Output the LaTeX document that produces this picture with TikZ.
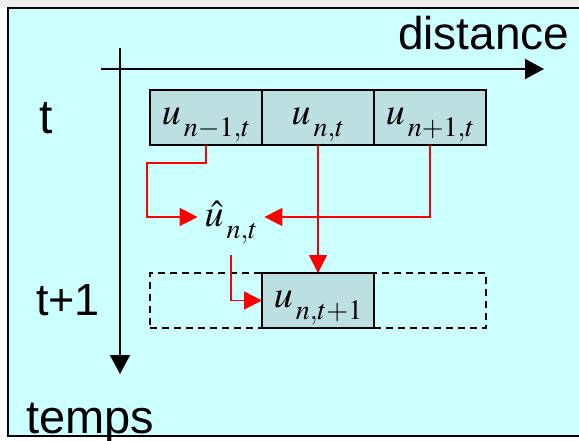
\documentclass[tikz,border=0pt]{standalone}
\usepackage{mathptmx}
\usepackage[no-math]{fontspec}
\setmainfont{Liberation Sans}
\usepackage{tikz}
\usetikzlibrary{arrows.meta, positioning}
\DeclareMathSizes{38}{38}{28}{20}
\newcommand{\usub}[2]{#1\kern3pt\lower12pt\hbox{$\scriptstyle #2$}}
\definecolor{bgcyan}{RGB}{204,255,255}
\definecolor{cellfill}{RGB}{188,224,226}
\definecolor{topgray}{RGB}{238,238,238}
\tikzset{
  cell/.style={rectangle, draw=black, fill=cellfill, line width=1.5pt,
    minimum width=112pt, minimum height=55pt, inner sep=0pt, outer sep=0pt,
    text height=30pt, text depth=16pt, font=\fontsize{38}{40}\selectfont},
  ghost/.style={rectangle, draw=black, dashed, dash pattern=on 7pt off 5pt,
    line width=1.2pt, minimum width=112pt, minimum height=55pt,
    inner sep=0pt, outer sep=0pt},
  hatlbl/.style={inner xsep=7pt, inner ysep=12pt, outer sep=0pt,
    font=\fontsize{38}{40}\selectfont},
  biglbl/.style={inner sep=0pt, anchor=base west},
  axis/.style={-{Triangle[length=19pt,width=20pt]}, line width=1.5pt, color=black},
  redarrow/.style={-{Triangle[length=18pt,width=18pt]}, line width=1.5pt, color=red}
}
\begin{document}
\begin{tikzpicture}[x=1pt, y=-1pt]
  \useasboundingbox (0,0) rectangle (579,440);
  % background and frame
  \fill[topgray] (0,0) rectangle (579,7);
  \draw[line width=2pt, fill=bgcyan] (8,8) rectangle (600,436);
  % axes
  \coordinate (xstart) at (101,69);
  \coordinate (xend) at (544,69);
  \coordinate (ystart) at (120,48);
  \coordinate (yend) at (120,374);
  \draw[axis] (xstart) -- (xend);
  \draw[axis] (ystart) -- (yend);
  \node[biglbl, font=\fontsize{46}{46}\selectfont] (dist) at (398,49) {distance};
  \node[biglbl, font=\fontsize{48}{48}\selectfont] (tlab) at (39,133) {t};
  \node[biglbl, font=\fontsize{45}{45}\selectfont] (t1lab) at (36,315) {t+1};
  \node[biglbl, font=\fontsize{47}{47}\selectfont] (temps) at (26,433) {temps};
  % row t
  \node[cell] (um) at (206,117.5) {$\usub{u}{n-1,t}$};
  \node[cell, right=0pt of um] (u0) {$\usub{u}{n,t}$};
  \node[cell, right=0pt of u0] (up) {$\usub{u}{n+1,t}$};
  % row t+1
  \node[ghost, below=128pt of um] (gl) {};
  \node[ghost, below=128pt of up] (gr) {};
  \node[cell, below=128pt of u0] (unew) {$\usub{u}{n,t+1}$};
  % estimate
  \node[hatlbl] (hat) at (231,222) {$\usub{\hat{u}}{n,t}$};
  \coordinate (kink) at (147,163);
  \draw[redarrow] (um.south) |- (kink) |- ([yshift=5pt]hat.west);
  \draw[redarrow] (up.south) |- ([yshift=5pt]hat.east);
  \draw[redarrow] (u0.south) -- (unew.north);
  \draw[redarrow] (hat.south) |- (unew.west);
\end{tikzpicture}
\end{document}
